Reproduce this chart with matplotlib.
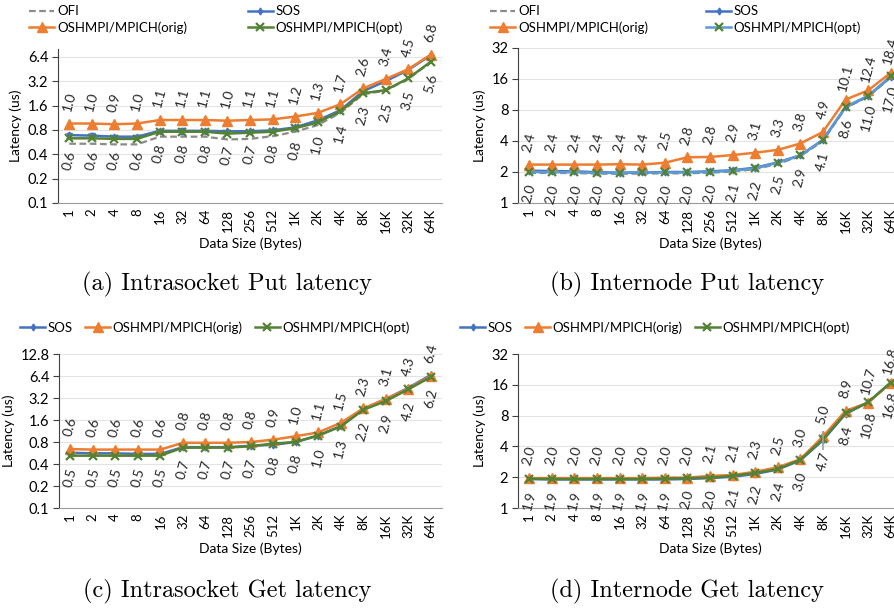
import matplotlib
matplotlib.use("Agg")
import matplotlib.pyplot as plt
from matplotlib.ticker import FixedLocator, NullLocator
from matplotlib.lines import Line2D

plt.rcParams['font.family'] = ['Lato', 'DejaVu Sans']

sizes = ['1', '2', '4', '8', '16', '32', '64', '128', '256', '512',
         '1K', '2K', '4K', '8K', '16K', '32K', '64K']

# (a) intrasocket put
ofi_a = [0.54, 0.54, 0.53, 0.53, 0.66, 0.66, 0.66, 0.61, 0.62, 0.67, 0.76, 0.92, 1.3, 2.2, 2.45, 3.4, 5.5]
sos_a = [0.69, 0.68, 0.66, 0.66, 0.78, 0.78, 0.78, 0.77, 0.77, 0.79, 0.86, 1.05, 1.4, 2.4, 3.2, 4.4, 6.7]
sos_err_a = [0.05, 0.05, 0.03, 0.03, 0.05, 0.06, 0.04, 0.03, 0.03, 0.03, 0.03, 0.03, 0.03, 0.05, 0.05, 0.05, 0.1]
orig_a = [0.96, 0.96, 0.94, 0.96, 1.06, 1.06, 1.06, 1.04, 1.06, 1.08, 1.17, 1.3, 1.66, 2.6, 3.4, 4.5, 6.8]
opt_a = [0.63, 0.63, 0.62, 0.62, 0.76, 0.76, 0.76, 0.72, 0.74, 0.76, 0.84, 0.99, 1.36, 2.27, 2.48, 3.46, 5.56]

# (b) internode put
ofi_b = [1.96, 1.96, 1.95, 1.93, 1.92, 1.93, 1.94, 1.94, 1.97, 2.02, 2.13, 2.4, 2.85, 4.0, 8.4, 10.8, 16.6]
sos_b = [2.06, 2.04, 2.03, 1.99, 1.97, 1.98, 2.0, 2.0, 2.03, 2.08, 2.2, 2.48, 2.9, 4.1, 8.5, 10.9, 16.8]
orig_b = [2.36, 2.36, 2.36, 2.36, 2.38, 2.36, 2.46, 2.78, 2.8, 2.92, 3.08, 3.28, 3.78, 4.9, 10.1, 12.4, 18.4]
opt_b = [2.0, 1.99, 1.99, 1.96, 1.96, 1.98, 1.98, 1.98, 2.0, 2.06, 2.17, 2.46, 2.9, 4.1, 8.6, 11.0, 17.0]

# (c) intrasocket get
sos_c = [0.57, 0.56, 0.56, 0.55, 0.55, 0.68, 0.68, 0.68, 0.71, 0.73, 0.8, 0.98, 1.32, 2.25, 3.1, 4.4, 6.6]
orig_c = [0.64, 0.63, 0.63, 0.63, 0.63, 0.78, 0.78, 0.78, 0.8, 0.86, 0.96, 1.08, 1.46, 2.3, 3.1, 4.3, 6.4]
opt_c = [0.52, 0.52, 0.52, 0.52, 0.52, 0.67, 0.67, 0.67, 0.7, 0.76, 0.8, 0.98, 1.3, 2.2, 2.9, 4.2, 6.2]

# (d) internode get
sos_d = [1.92, 1.9, 1.9, 1.9, 1.9, 1.9, 1.9, 1.92, 1.96, 2.02, 2.15, 2.38, 2.92, 4.6, 8.3, 10.8, 16.8]
orig_d = [1.96, 1.96, 1.96, 1.96, 1.96, 1.96, 1.98, 1.98, 2.06, 2.1, 2.26, 2.5, 3.0, 5.0, 8.9, 10.7, 16.8]
opt_d = [1.93, 1.92, 1.92, 1.92, 1.92, 1.92, 1.94, 1.96, 1.98, 2.06, 2.2, 2.4, 2.96, 4.7, 8.4, 10.8, 16.8]
opt_err_d = [0, 0, 0, 0, 0, 0, 0, 0, 0, 0, 0, 0, 0, 1.0, 0, 0, 0]

ticks_small = [0.1, 0.2, 0.4, 0.8, 1.6, 3.2, 6.4, 12.8]
ticks_big = [1, 2, 4, 8, 16, 32]

C_OFI = '#8c8c8c'
C_SOS = '#4472C4'
C_ORIG = '#ED7D31'
C_OPT = '#548235'
C_OPT_B = '#5B9BD5'

x = list(range(len(sizes)))
W, H = 894, 609

fig = plt.figure(figsize=(8.94, 6.09), dpi=100)


def make_ax(left, top, bottom, width, ylim, yticks):
    ax = fig.add_axes([left / W, 1 - bottom / H, width / W, (bottom - top) / H])
    ax.set_yscale('log', base=2)
    ax.set_ylim(*ylim)
    ax.set_xlim(-0.5, len(sizes) - 0.5)
    ticks = [t for t in yticks if ylim[0] <= t <= ylim[1]]
    ax.yaxis.set_major_locator(FixedLocator(ticks))
    ax.yaxis.set_minor_locator(NullLocator())
    ax.set_yticklabels(['%g' % t for t in ticks], fontsize=10.5)
    ax.set_xticks(x)
    ax.set_xticklabels(sizes, rotation=90, fontsize=9.5)
    ax.tick_params(axis='x', length=0, pad=4)
    ax.tick_params(axis='y', length=4, color='#404040', pad=3)
    ax.grid(axis='y', color='#e3e3e3', lw=0.8)
    ax.set_axisbelow(True)
    for s in ['top', 'right']:
        ax.spines[s].set_visible(False)
    ax.spines['left'].set_color('#404040')
    ax.spines['bottom'].set_color('#9a9a9a')
    ax.set_xlabel('Data Size (Bytes)', fontsize=10, labelpad=3)
    ax.set_ylabel('Latency (us)', fontsize=10, labelpad=4)
    return ax


def label(ax, vals, up):
    for i, v in enumerate(vals):
        ax.annotate('%.1f' % v, (i, v), xytext=(0, 22 if up else -22),
                    textcoords='offset pixels', ha='center', va='center',
                    rotation=75, fontsize=10, color='#262626')


def plot_ofi(ax, vals):
    ax.plot(x, vals, color=C_OFI, lw=1.6, ls=(0, (3, 1.6)), zorder=2)


def plot_sos(ax, vals, err=None):
    if err is not None:
        ax.errorbar(x, vals, yerr=err, color=C_SOS, lw=1.8, marker='d', ms=3.5,
                    capsize=2, elinewidth=0.9, zorder=3)
    else:
        ax.plot(x, vals, color=C_SOS, lw=1.8, marker='d', ms=3.5, zorder=3)


def plot_orig(ax, vals):
    ax.plot(x, vals, color=C_ORIG, lw=1.8, marker='^', ms=7, zorder=4)


def plot_opt(ax, vals, line_color=C_OPT, err=None):
    ax.plot(x, vals, color=line_color, lw=1.8, marker='x', ms=5.5, mew=1.6,
            mec=C_OPT, zorder=5)
    if err is not None:
        ax.errorbar(x, vals, yerr=err, fmt='none', ecolor='#a0a0a0', elinewidth=1.2, zorder=6)


ax_a = make_ax(58, 49, 203, 384, (0.1, 8.0), ticks_small)
plot_ofi(ax_a, ofi_a)
plot_sos(ax_a, sos_a, sos_err_a)
plot_orig(ax_a, orig_a)
plot_opt(ax_a, opt_a)
label(ax_a, orig_a, True)
label(ax_a, opt_a, False)

ax_b = make_ax(518, 48, 203, 384, (1, 32), ticks_big)
plot_ofi(ax_b, ofi_b)
plot_sos(ax_b, sos_b)
plot_orig(ax_b, orig_b)
plot_opt(ax_b, opt_b, line_color=C_OPT_B)
label(ax_b, orig_b, True)
label(ax_b, opt_b, False)

ax_c = make_ax(59, 354, 508, 383, (0.1, 12.8), ticks_small)
plot_sos(ax_c, sos_c)
plot_orig(ax_c, orig_c)
plot_opt(ax_c, opt_c)
label(ax_c, orig_c, True)
label(ax_c, opt_c, False)

ax_d = make_ax(518, 354, 508, 384, (1, 32), ticks_big)
plot_sos(ax_d, sos_d)
plot_orig(ax_d, orig_d)
plot_opt(ax_d, opt_d, err=opt_err_d)
label(ax_d, orig_d, True)
label(ax_d, opt_d, False)

# legends
h_ofi = Line2D([], [], color=C_OFI, lw=1.6, ls=(0, (3, 1.6)))
h_sos = Line2D([], [], color=C_SOS, lw=1.8, marker='d', ms=3.5)
h_orig = Line2D([], [], color=C_ORIG, lw=1.8, marker='^', ms=7)
h_opt = Line2D([], [], color=C_OPT, lw=1.8, marker='x', ms=5.5, mew=1.6)
h_opt_b = Line2D([], [], color=C_OPT_B, lw=1.8, marker='x', ms=5.5, mew=1.6, mec=C_OPT)
n_ofi, n_sos, n_orig, n_opt = 'OFI', 'SOS', 'OSHMPI/MPICH(orig)', 'OSHMPI/MPICH(opt)'

leg_kw = dict(frameon=False, fontsize=9.5, handlelength=1.9, handletextpad=0.2,
              borderaxespad=0, labelspacing=0.3)
fig.legend([h_ofi, h_orig, h_sos, h_opt], [n_ofi, n_orig, n_sos, n_opt], ncol=2,
           loc='upper left', bbox_to_anchor=(24 / W, 1 - 0 / H), columnspacing=4.6, **leg_kw)
fig.legend([h_ofi, h_orig, h_sos, h_opt_b], [n_ofi, n_orig, n_sos, n_opt], ncol=2,
           loc='upper left', bbox_to_anchor=(485 / W, 1 - 0 / H), columnspacing=4.4, **leg_kw)
fig.legend([h_sos, h_orig, h_opt], [n_sos, n_orig, n_opt], ncol=3,
           loc='upper left', bbox_to_anchor=(15 / W, 1 - 316 / H), columnspacing=0.9, **leg_kw)
fig.legend([h_sos, h_orig, h_opt], [n_sos, n_orig, n_opt], ncol=3,
           loc='upper left', bbox_to_anchor=(455 / W, 1 - 316 / H), columnspacing=0.9, **leg_kw)

# captions
cap_kw = dict(fontsize=17.5, family='cmr10', ha='center', va='center')
fig.text(227 / W, 1 - 284 / H, '(a) Intrasocket Put latency', **cap_kw)
fig.text(687 / W, 1 - 284 / H, '(b) Internode Put latency', **cap_kw)
fig.text(227 / W, 1 - 591 / H, '(c) Intrasocket Get latency', **cap_kw)
fig.text(687 / W, 1 - 591 / H, '(d) Internode Get latency', **cap_kw)

fig.savefig('out.png', dpi=100)
